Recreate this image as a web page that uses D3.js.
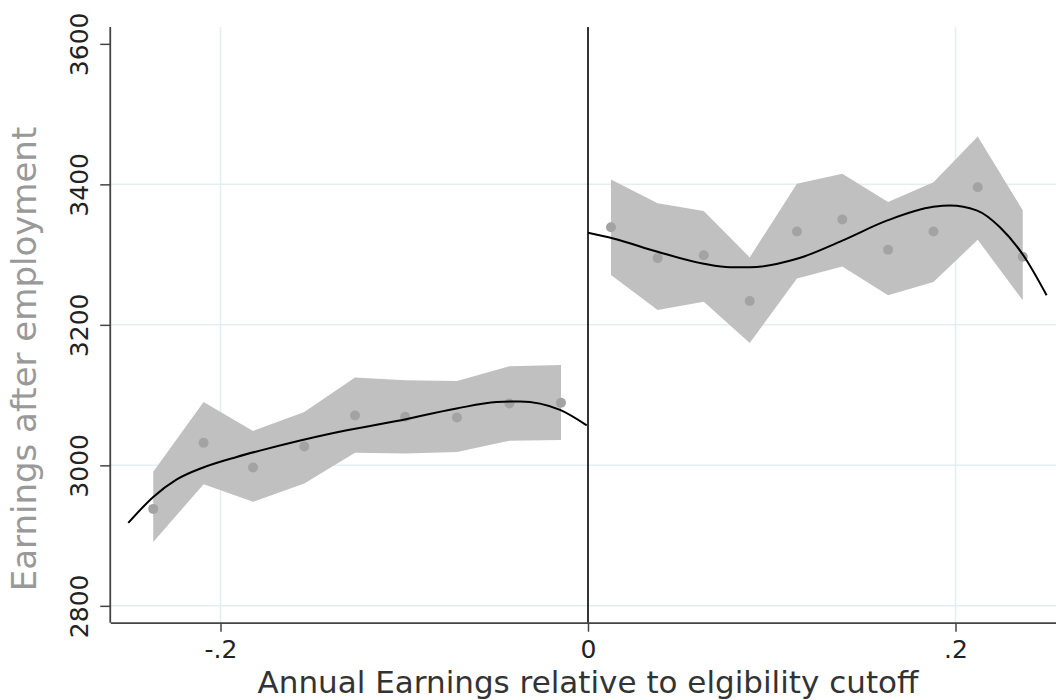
<!DOCTYPE html>
<html>
<head>
<meta charset="utf-8">
<script src="https://cdn.jsdelivr.net/npm/d3@7"></script>
<style>
  html, body { margin: 0; padding: 0; background: #fff; }
  svg { display: block; font-family: "DejaVu Sans", sans-serif; }
</style>
</head>
<body>
<svg id="chart" width="1056" height="700"></svg>
<script>
// ---- data ----
const xTicks = [-0.2, 0, 0.2];
const xTickLabels = ["-.2", "0", ".2"];
const yTicks = [2800, 3000, 3200, 3400, 3600];
const yGrid = [2800, 3000, 3200, 3400];

// binned means left of cutoff
const leftX  = [-0.2366, -0.2092, -0.1823, -0.1544, -0.1268, -0.0995, -0.0713, -0.0428, -0.0147];
const leftY  = [2938, 3032, 2997, 3027, 3071, 3069, 3068, 3088, 3089];
const leftHi = [2991, 3090, 3049, 3076, 3125, 3121, 3120, 3141, 3143];
const leftLo = [2891, 2973, 2948, 2974, 3018, 3017, 3019, 3035, 3036];

// binned means right of cutoff
const rightX  = [0.0125, 0.0379, 0.0630, 0.0880, 0.1137, 0.1384, 0.1633, 0.1880, 0.2121, 0.2366];
const rightY  = [3339, 3295, 3299, 3234, 3333, 3350, 3307, 3333, 3396, 3297];
const rightHi = [3407, 3373, 3362, 3296, 3401, 3415, 3375, 3403, 3468, 3363];
const rightLo = [3271, 3221, 3233, 3174, 3266, 3283, 3242, 3261, 3321, 3235];

// fitted curves
const leftFitX = [-0.2502, -0.2366, -0.2238, -0.2094, -0.1912, -0.1785, -0.1404, -0.1041, -0.0715, -0.0497, -0.0370, -0.0152, -0.0007];
const leftFitY = [2918, 2955, 2980, 2997, 3012, 3021, 3045, 3063, 3081, 3090, 3091, 3079, 3057];
const rightFitX = [0.0, 0.0138, 0.0379, 0.0630, 0.0773, 0.0882, 0.1137, 0.1384, 0.1633, 0.1879, 0.1970, 0.2115, 0.2242, 0.2369, 0.2496];
const rightFitY = [3331, 3323, 3304, 3287, 3282, 3282, 3294, 3320, 3349, 3368, 3370, 3363, 3339, 3299, 3242];

const xTitle = "Annual Earnings relative to elgibility cutoff";
const yTitle = "Earnings after employment";

// ---- layout ----
const svg = d3.select("#chart");
const x = d3.scaleLinear().domain([-0.26, 0.26]).range([110.25, 1065.75]);
const y = d3.scaleLinear().domain([2776, 3624]).range([622.7, 27]);
const [x0, x1] = x.range();
const [yb, yt] = y.range();

svg.append("rect").attr("width", 1056).attr("height", 700).attr("fill", "#fff");

// gridlines
const gridColor = "#e3eef0";
svg.append("g").selectAll("line").data(yGrid).join("line")
  .attr("x1", x0).attr("x2", x1)
  .attr("y1", d => y(d)).attr("y2", d => y(d))
  .attr("stroke", gridColor).attr("stroke-width", 1.5);
svg.append("g").selectAll("line").data([-0.2, 0.2]).join("line")
  .attr("x1", d => x(d)).attr("x2", d => x(d))
  .attr("y1", yt).attr("y2", yb)
  .attr("stroke", gridColor).attr("stroke-width", 1.5);

// bands
const area = d3.area().x(d => x(d.x)).y0(d => y(d.lo)).y1(d => y(d.hi));
const leftBand = leftX.map((v, i) => ({x: v, lo: leftLo[i], hi: leftHi[i]}));
const rightBand = rightX.map((v, i) => ({x: v, lo: rightLo[i], hi: rightHi[i]}));
svg.append("path").datum(leftBand).attr("d", area).attr("fill", "#c0c0c0");
svg.append("path").datum(rightBand).attr("d", area).attr("fill", "#c0c0c0");

// points
const pts = leftX.map((v, i) => ({x: v, y: leftY[i]}))
  .concat(rightX.map((v, i) => ({x: v, y: rightY[i]})));
svg.append("g").selectAll("circle").data(pts).join("circle")
  .attr("cx", d => x(d.x)).attr("cy", d => y(d.y)).attr("r", 5)
  .attr("fill", "#a3a3a3");

// fitted curves
const line = d3.line().x(d => x(d.x)).y(d => y(d.y)).curve(d3.curveMonotoneX);
svg.append("path").datum(leftFitX.map((v, i) => ({x: v, y: leftFitY[i]})))
  .attr("d", line).attr("fill", "none").attr("stroke", "#000").attr("stroke-width", 2);
svg.append("path").datum(rightFitX.map((v, i) => ({x: v, y: rightFitY[i]})))
  .attr("d", line).attr("fill", "none").attr("stroke", "#000").attr("stroke-width", 2);

// cutoff line
svg.append("line").attr("x1", x(0)).attr("x2", x(0)).attr("y1", yt).attr("y2", yb)
  .attr("stroke", "#000").attr("stroke-width", 1.6);

// axes
const axisColor = "#444";
const yAxis = svg.append("g").attr("transform", `translate(${x0},0)`)
  .call(d3.axisLeft(y).tickValues(yTicks).tickSize(10).tickSizeOuter(0).tickFormat(d3.format("d")));
yAxis.select(".domain").attr("stroke", axisColor).attr("stroke-width", 1.8)
  .attr("d", `M0,${yb}V${yt}`);
yAxis.selectAll(".tick line").attr("stroke", axisColor).attr("stroke-width", 1.5);
yAxis.selectAll(".tick text")
  .attr("x", null).attr("dy", null)
  .attr("transform", "translate(-22,0) rotate(-90)")
  .attr("text-anchor", "middle")
  .attr("font-size", 25).attr("fill", "#222").attr("font-family", "DejaVu Sans");

const xAxis = svg.append("g").attr("transform", `translate(0,${yb})`)
  .call(d3.axisBottom(x).tickValues(xTicks).tickSize(9).tickSizeOuter(0)
    .tickFormat((d, i) => xTickLabels[i]));
xAxis.select(".domain").attr("stroke", axisColor).attr("stroke-width", 1.8);
xAxis.selectAll(".tick line").attr("stroke", axisColor).attr("stroke-width", 1.5);
xAxis.selectAll(".tick text")
  .attr("y", 35).attr("dy", null)
  .attr("font-size", 25).attr("fill", "#222").attr("font-family", "DejaVu Sans");

// titles
svg.append("text").attr("x", x(0)).attr("y", 693).attr("text-anchor", "middle")
  .attr("font-size", 31).attr("fill", "#333").text(xTitle);
svg.append("text").attr("transform", "translate(36,359) rotate(-90)")
  .attr("text-anchor", "middle").attr("font-size", 34).attr("fill", "#999").text(yTitle);
</script>
</body>
</html>
